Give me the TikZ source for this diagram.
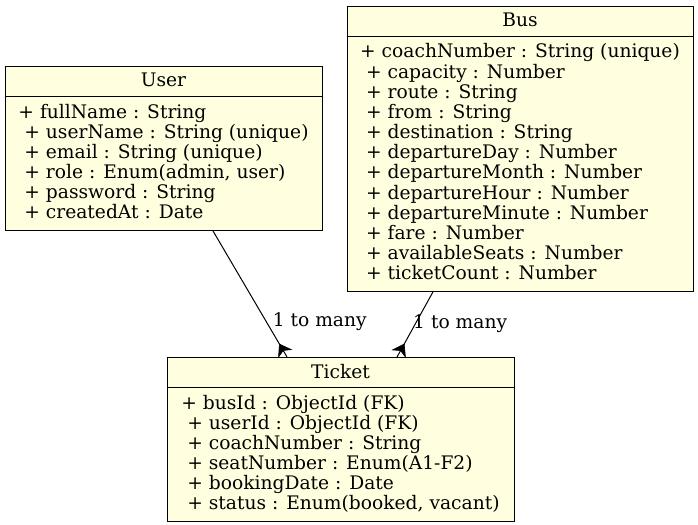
\documentclass[tikz,border=0pt]{standalone}
\usepackage{fontspec}
\setmainfont{DejaVu Serif}
\usetikzlibrary{shapes.multipart,decorations.markings,positioning}
\definecolor{classfill}{HTML}{FFFFE0}
\newcommand{\classname}[1]{\rule[-6.75pt]{0pt}{21.75pt}#1}
\newcommand{\firstrow}{\rule{0pt}{15.75pt}}
\newcommand{\lastrow}{\rule[-8.25pt]{0pt}{8.25pt}}
\tikzset{
    umlclass/.style={rectangle split, rectangle split parts=2, draw, fill=classfill,
        line width=0.75pt, inner xsep=0pt, inner ysep=0pt, anchor=north,
        font=\fontsize{14}{15}\selectfont},
    crow/.style={line width=0.75pt, postaction={decorate},
        decoration={markings, mark=at position 1 with {
            \filldraw[line width=0.5pt] (-11pt,0pt) -- (-3pt,5.5pt) -- (-5.5pt,0pt)
                -- (-3pt,-5.5pt) -- cycle;}}},
    mult/.style={font=\fontsize{14}{15}\selectfont, anchor=west, inner sep=0pt}
}
\begin{document}
\begin{tikzpicture}[x=0.75pt,y=-0.75pt]
    \useasboundingbox (0,0) rectangle (698,524);
    \node[umlclass, minimum width=237.75pt] (user) at (163.5,66) {\classname{User}
        \nodepart{two}\begin{tabular}{@{}l@{}}
            \firstrow+ fullName : String\\
            \ + userName : String (unique)\\
            \ + email : String (unique)\\
            \ + role : Enum(admin, user)\\
            \ + password : String\\
            \ + createdAt : Date\lastrow
        \end{tabular}};
    \node[umlclass, minimum width=259.5pt] (bus) at (520,6) {\classname{Bus}
        \nodepart{two}\begin{tabular}{@{}l@{}}
            \firstrow+ coachNumber : String (unique)\\
            \ + capacity : Number\\
            \ + route : String\\
            \ + from : String\\
            \ + destination : String\\
            \ + departureDay : Number\\
            \ + departureMonth : Number\\
            \ + departureHour : Number\\
            \ + departureMinute : Number\\
            \ + fare : Number\\
            \ + availableSeats : Number\\
            \ + ticketCount : Number\lastrow
        \end{tabular}};
    \node[umlclass, minimum width=260.25pt] (ticket) at (340.5,357) {\classname{Ticket}
        \nodepart{two}\begin{tabular}{@{}l@{}}
            \firstrow+ busId : ObjectId (FK)\\
            \ + userId : ObjectId (FK)\\
            \ + coachNumber : String\\
            \ + seatNumber : Enum(A1-F2)\\
            \ + bookingDate : Date\\
            \ + status : Enum(booked, vacant)\lastrow
        \end{tabular}};
    % one user / one bus to many tickets
    \draw[crow] ([xshift=37.1pt]user.south) -- ([xshift=-40.1pt]ticket.north)
        node[mult, pos=0.72, xshift=4.5pt] {1 to many};
    \draw[crow] ([xshift=-65.25pt]bus.south) -- ([xshift=42.4pt]ticket.north)
        node[mult, pos=0.49, xshift=-2pt] {1 to many};
\end{tikzpicture}
\end{document}
